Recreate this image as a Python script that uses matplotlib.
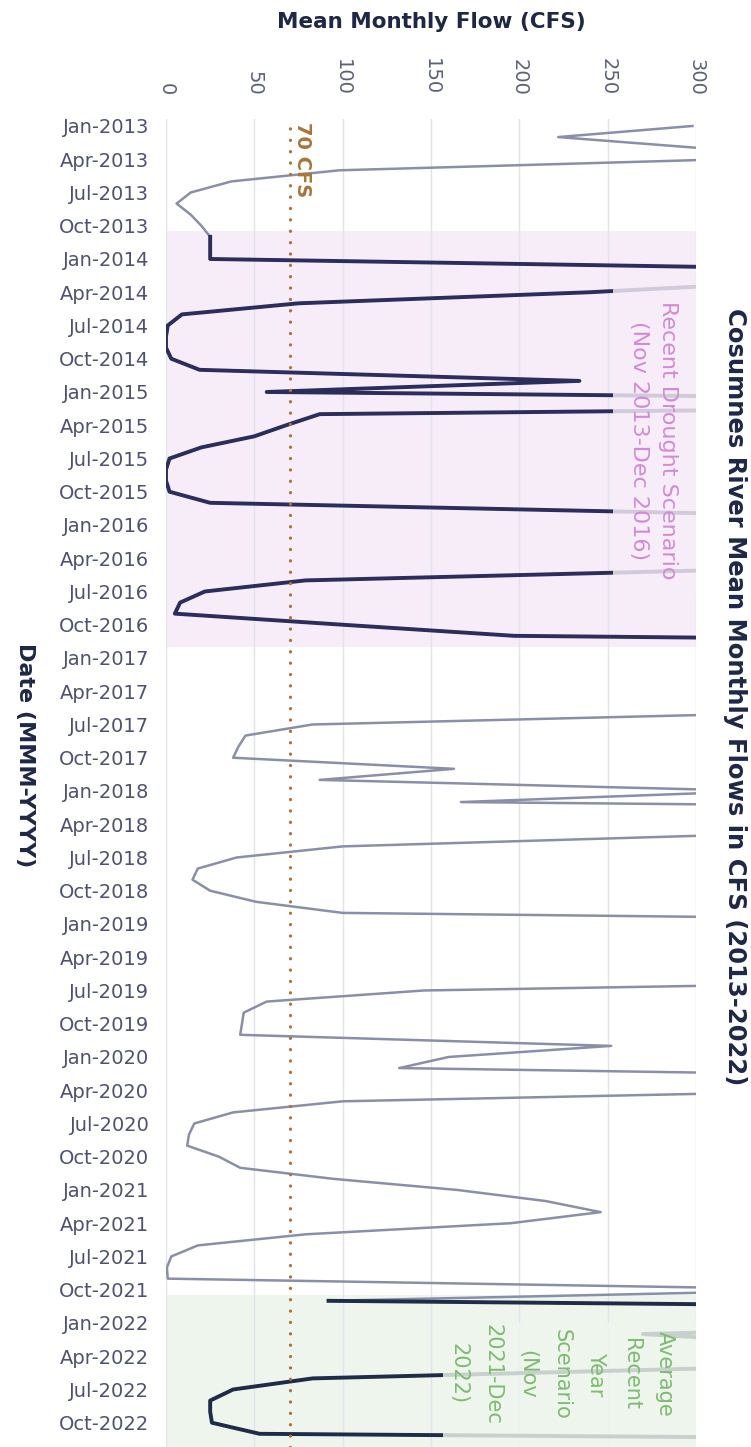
import matplotlib.pyplot as plt
from matplotlib.patches import Rectangle

# Mean monthly flow (cfs), Cosumnes River, one list per year (Jan..Dec)
month_abbr = ['Jan', 'Feb', 'Mar', 'Apr', 'May', 'Jun',
              'Jul', 'Aug', 'Sep', 'Oct', 'Nov', 'Dec']
years = list(range(2013, 2023))

flow_2013 = [298, 222, 303, 318, 98, 37, 14, 6, 14, 20, 25, 25]
flow_2014 = [25, 416, 360, 240, 75, 9, 1, 0, 0, 3, 19, 234]
flow_2015 = [57, 720, 87, 68, 50, 20, 2, 0, 0, 2, 25, 320]
flow_2016 = [600, 400, 1200, 700, 330, 79, 22, 8, 5, 100, 197, 850]
flow_2017 = [2500, 3500, 1200, 1000, 700, 340, 83, 45, 41, 38, 163, 87]
flow_2018 = [337, 167, 830, 900, 310, 100, 40, 18, 15, 25, 51, 100]
flow_2019 = [670, 1500, 900, 600, 700, 520, 146, 57, 44, 43, 42, 252]
flow_2020 = [160, 132, 550, 400, 100, 38, 16, 13, 12, 30, 42, 95]
flow_2021 = [165, 215, 246, 195, 79, 18, 3, 0.5, 1, 380, 92, 780]
flow_2022 = [500, 270, 380, 420, 330, 83, 38, 25, 25, 26, 53, 900]

flow_ticks = [0, 50, 100, 150, 200, 250, 300]
threshold = 70

flows = (flow_2013 + flow_2014 + flow_2015 + flow_2016 + flow_2017 +
         flow_2018 + flow_2019 + flow_2020 + flow_2021 + flow_2022)
months = [f'{m}-{y}' for y in years for m in month_abbr]
pos = list(range(len(months)))

d0, d1 = months.index('Nov-2013'), months.index('Dec-2016')
r0, r1 = months.index('Nov-2021'), months.index('Dec-2022')

navy = '#1f2747'
W, H = 751, 1447
fig = plt.figure(figsize=(W / 100, H / 100), dpi=100)
ax = fig.add_axes([166 / W, 0, 530 / W, 1328 / H])
ax.set_xlim(0, 300)
ax.set_ylim(119.19, -0.63)

# scenario shading
ax.axhspan(d0 - 0.5, d1, color='#f6edf8', lw=0, zorder=0)
ax.axhspan(r0 - 0.5, 125, color='#eef5ed', lw=0, zorder=0)

for v in flow_ticks:
    ax.axvline(v, color='#e2e2ea', lw=1, zorder=1)

ax.plot(flows, pos, color='#8a8fa9', lw=1.8, zorder=3, solid_joinstyle='round')
ax.plot(flows[d0:d1 + 1], pos[d0:d1 + 1], color='#2b2e5c', lw=2.8, zorder=4,
        solid_joinstyle='round')
ax.plot(flows[r0:r1 + 1], pos[r0:r1 + 1], color='#1f2c47', lw=2.8, zorder=4,
        solid_joinstyle='round')

ax.axvline(threshold, color='#a8753c', lw=2.4, ls=(0, (0.01, 3.4)),
           dash_capstyle='round', zorder=5)
ax.text(threshold + 7, 3.0, f'{threshold} CFS', rotation=-90, ha='center',
        va='center', color='#a8753c', fontsize=14, fontweight='bold', zorder=7)

# label backgrounds fade the lines passing under them
ax.add_patch(Rectangle((253, 14.2), 60, 28.1, fc='#f6edf8', ec='none',
                       alpha=0.82, zorder=6))
ax.add_patch(Rectangle((157, 108.0), 160, 14, fc='#eef5ed', ec='none',
                       alpha=0.82, zorder=6))
ax.text(276, 28.4, 'Recent Drought Scenario\n(Nov 2013-Dec 2016)',
        rotation=-90, ha='center', va='center', multialignment='center',
        color='#d38ad6', fontsize=16, linespacing=1.6, zorder=7)
ax.text(224, 112.6, 'Average\nRecent\nYear\nScenario\n(Nov\n2021-Dec\n2022)',
        rotation=-90, ha='center', va='center', multialignment='center',
        color='#7dbb70', fontsize=15, linespacing=1.9, zorder=7)

ax.set_yticks(pos[::3])
ax.set_yticklabels(months[::3], color='#4d5270', fontsize=14)
ax.set_xticks(flow_ticks)
ax.set_xticklabels([str(v) for v in flow_ticks], color='#5b6079', fontsize=14)
ax.tick_params(axis='x', top=True, labeltop=True, bottom=False,
               labelbottom=False, labelrotation=-90, length=0, pad=17)
ax.tick_params(axis='y', length=0, pad=12)
for s in ax.spines.values():
    s.set_visible(False)

fig.text((166 + 696) / 2 / W, 1 - 22 / H, 'Mean Monthly Flow (CFS)',
         ha='center', va='center', fontsize=15.5, fontweight='bold', color=navy)
fig.text(25 / W, 1 - 755 / H, 'Date (MMM-YYYY)', rotation=-90, ha='center',
         va='center', fontsize=16, fontweight='bold', color=navy)
fig.text(735 / W, 1 - 697 / H,
         'Cosumnes River Mean Monthly Flows in CFS (2013-2022)',
         rotation=-90, ha='center', va='center', fontsize=17.5,
         fontweight='bold', color=navy)

fig.savefig('out.png', dpi=100)
